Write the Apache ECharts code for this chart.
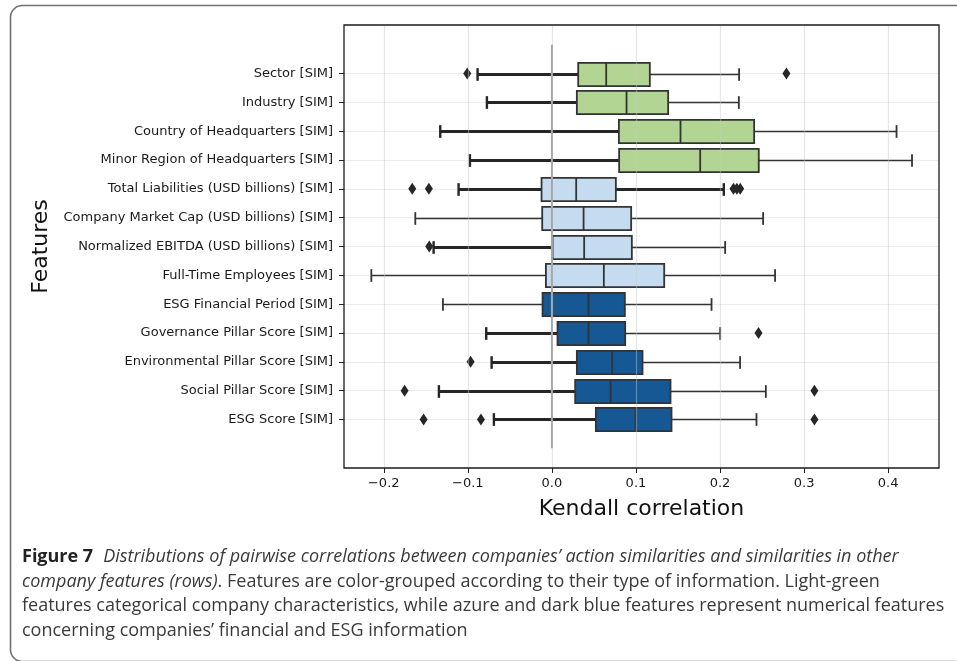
<!DOCTYPE html>
<html><head><meta charset="utf-8">
<script src="https://cdn.jsdelivr.net/npm/echarts@6/dist/echarts.min.js"></script>
<style>html,body{margin:0;padding:0;background:#fff}#c{width:957px;height:661px}</style>
</head><body><div id="c"></div>
<script>
// ---------------- DATA ----------------
const categories = [
  'Sector [SIM]', 'Industry [SIM]', 'Country of Headquarters [SIM]', 'Minor Region of Headquarters [SIM]',
  'Total Liabilities (USD billions) [SIM]', 'Company Market Cap (USD billions) [SIM]',
  'Normalized EBITDA (USD billions) [SIM]', 'Full-Time Employees [SIM]', 'ESG Financial Period [SIM]',
  'Governance Pillar Score [SIM]', 'Environmental Pillar Score [SIM]', 'Social Pillar Score [SIM]', 'ESG Score [SIM]'
];
const groups = ['categorical','categorical','categorical','categorical',
  'financial','financial','financial','financial',
  'esg','esg','esg','esg','esg'];
const whiskerLow  = [-0.0884, -0.0773, -0.1328, -0.0975, -0.1110, -0.1625, -0.1407, -0.2148, -0.1296, -0.0781, -0.0717, -0.1344, -0.0690];
const q1          = [ 0.0313,  0.0297,  0.0797,  0.0800, -0.0123, -0.0115,  0.0008, -0.0071, -0.0111,  0.0067,  0.0297,  0.0277,  0.0523];
const median      = [ 0.0646,  0.0888,  0.1530,  0.1764,  0.0289,  0.0377,  0.0384,  0.0618,  0.0436,  0.0436,  0.0717,  0.0698,  0.0995];
const q3          = [ 0.1165,  0.1383,  0.2406,  0.2461,  0.0761,  0.0943,  0.0951,  0.1336,  0.0868,  0.0872,  0.1078,  0.1411,  0.1423];
const whiskerHigh = [ 0.2227,  0.2224,  0.4100,  0.4284,  0.2045,  0.2513,  0.2061,  0.2655,  0.1899,  0.2002,  0.2239,  0.2545,  0.2434];
// [row index, value]
const outliers = [
  [0, -0.1007], [0, 0.2790],
  [4, -0.1661], [4, -0.1463], [4, 0.2160], [4, 0.2200], [4, 0.2240],
  [6, -0.1459],
  [9, 0.2458],
  [10, -0.0967],
  [11, -0.1752], [11, 0.3123],
  [12, -0.1526], [12, -0.0844], [12, 0.3123]
];
const xTicks = [-0.2, -0.1, 0.0, 0.1, 0.2, 0.3, 0.4];
const zeroLine = [[0, -1], [0, 13]];
const xTitle = 'Kendall correlation';
const yTitle = 'Features';

// ---------------- STYLE ----------------
const groupColors = { categorical: '#b3d594', financial: '#c5dcf0', esg: '#155893' };
const leftWhiskerThick  = [1,1,1,1,1,0,1,0,0,1,1,1,1];
const rightWhiskerThick = [0,0,0,0,1,0,0,0,0,0,0,0,0];

const chart = echarts.init(document.getElementById('c'), null, { renderer: 'canvas' });

const boxData = categories.map((c, i) => [i, whiskerLow[i], q1[i], median[i], q3[i], whiskerHigh[i]]);

function renderBox(params, api) {
  const i = api.value(0);
  const pLo = api.coord([api.value(1), i]);
  const pA = api.coord([api.value(2), i]);
  const pM = api.coord([api.value(3), i]);
  const pB = api.coord([api.value(4), i]);
  const pHi = api.coord([api.value(5), i]);
  const band = Math.abs(api.size([0, 1])[1]);
  const h = band * 0.8;
  const cap = band * 0.22;
  const y = Math.round(pA[1]) + 0.5;
  const thickL = leftWhiskerThick[i] ? 3 : 1.6;
  const thickR = rightWhiskerThick[i] ? 3 : 1.6;
  const colL = leftWhiskerThick[i] ? '#262626' : '#333';
  const colR = rightWhiskerThick[i] ? '#262626' : '#333';
  return {
    type: 'group',
    children: [
      { type: 'line', shape: { x1: pLo[0], y1: y, x2: pA[0], y2: y }, style: { stroke: colL, lineWidth: thickL } },
      { type: 'line', shape: { x1: pLo[0], y1: y - cap, x2: pLo[0], y2: y + cap }, style: { stroke: colL, lineWidth: thickL === 3 ? 2.4 : 1.8 } },
      { type: 'line', shape: { x1: pB[0], y1: y, x2: pHi[0], y2: y }, style: { stroke: colR, lineWidth: thickR } },
      { type: 'line', shape: { x1: pHi[0], y1: y - cap, x2: pHi[0], y2: y + cap }, style: { stroke: colR, lineWidth: thickR === 3 ? 2.4 : 1.8 } },
      { type: 'rect', shape: { x: pA[0], y: y - h / 2, width: pB[0] - pA[0], height: h },
        style: { fill: groupColors[groups[i]], stroke: '#333', lineWidth: 1.8 } },
      { type: 'line', shape: { x1: pM[0], y1: y - h / 2, x2: pM[0], y2: y + h / 2 }, style: { stroke: '#333', lineWidth: 1.8 } }
    ]
  };
}

const diamond = 'path://M0,-1L0.6,0L0,1L-0.6,0Z';
const capFont = 'Open Sans';
const capSize = 18;

const option = {
  backgroundColor: '#fff',
  animation: false,
  grid: { left: 344, right: 18, top: 25, bottom: 193, show: true, borderColor: '#1a1a1a', borderWidth: 1.3, backgroundColor: 'transparent', z: 5 },
  xAxis: {
    type: 'value', min: -0.2473, max: 0.4605, z: 3,
    name: xTitle, nameLocation: 'middle', nameGap: 30,
    nameTextStyle: { fontFamily: 'DejaVu Sans', fontSize: 22, color: '#111' },
    axisLine: { show: false, onZero: false },
    axisTick: { show: true, length: 5, customValues: xTicks, lineStyle: { color: '#222', width: 1 } },
    axisLabel: { customValues: xTicks, margin: 9, fontFamily: 'DejaVu Sans', fontSize: 13, color: '#1a1a1a',
      formatter: v => v.toFixed(1).replace('-', '\u2212') },
    splitLine: { show: true, lineStyle: { color: 'rgba(200,200,200,0.45)', width: 1.2 } }
  },
  yAxis: {
    type: 'value', min: -1.684, max: 13.684, inverse: true, z: 1,
    name: yTitle, nameLocation: 'middle', nameGap: 288, nameRotate: 90,
    nameTextStyle: { fontFamily: 'DejaVu Sans', fontSize: 22, color: '#111' },
    axisLine: { show: false, onZero: false },
    axisTick: { show: true, length: 5, customValues: categories.map((c, i) => i), lineStyle: { color: '#222', width: 1 } },
    axisLabel: { customValues: categories.map((c, i) => i), margin: 11, fontFamily: 'DejaVu Sans', fontSize: 13, color: '#1a1a1a',
      formatter: v => categories[Math.round(v)] || '' },
    splitLine: { show: true, lineStyle: { color: '#ececec', width: 1.2 } }
  },
  series: [
    { type: 'custom', renderItem: renderBox, data: boxData, encode: { x: [1, 2, 3, 4, 5], y: 0 }, z: 2, silent: true },
    { type: 'scatter', data: outliers.map(o => [o[1], o[0]]), symbol: diamond, symbolSize: [8, 12],
      itemStyle: { color: '#262626', opacity: 1 }, z: 2, silent: true },
    { type: 'line', data: zeroLine, symbol: 'none', lineStyle: { color: '#a8a8a8', width: 2 }, z: 4, silent: true }
  ],
  graphic: [
    { type: 'rect', silent: true, z: -1, shape: { x: 10.5, y: 5.5, width: 1000, height: 656, r: 12 },
      style: { fill: 'none', stroke: '#707070', lineWidth: 1.6 } },
    { type: 'text', left: 22, top: 548, silent: true, style: {
      text: '{b|Figure 7}   {i|Distributions of pairwise correlations between companies\u2019 action similarities and similarities in other}',
      rich: {
        b: { fontFamily: capFont, fontWeight: 'bold', fontSize: capSize, fill: '#222' },
        i: { fontFamily: capFont, fontStyle: 'italic', fontSize: capSize, fill: '#3a3a3a' }
      } } },
    { type: 'text', left: 22, top: 573, silent: true, style: {
      text: '{i|company features (rows)}{r|. Features are color-grouped according to their type of information. Light-green}',
      rich: {
        i: { fontFamily: capFont, fontStyle: 'italic', fontSize: capSize, fill: '#3a3a3a' },
        r: { fontFamily: capFont, fontSize: capSize, fill: '#3a3a3a' }
      } } },
    { type: 'text', left: 22, top: 597, silent: true, style: {
      text: 'features categorical company characteristics, while azure and dark blue features represent numerical features',
      fontFamily: capFont, fontSize: capSize, fill: '#3a3a3a' } },
    { type: 'text', left: 22, top: 622, silent: true, style: {
      text: 'concerning companies\u2019 financial and ESG information',
      fontFamily: capFont, fontSize: capSize, fill: '#3a3a3a' } }
  ]
};
chart.setOption(option);
</script>
</body></html>
